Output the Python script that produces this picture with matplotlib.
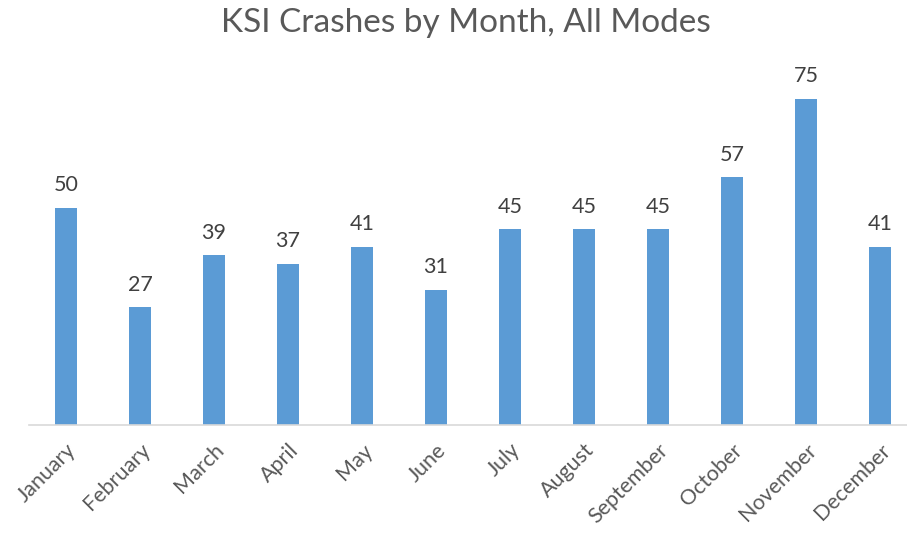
import matplotlib
matplotlib.use('Agg')
import matplotlib.pyplot as plt

months = ['January', 'February', 'March', 'April', 'May', 'June', 'July',
          'August', 'September', 'October', 'November', 'December']
crashes = [50, 27, 39, 37, 41, 31, 45, 45, 45, 57, 75, 41]

plt.rcParams['font.family'] = ['Lato', 'DejaVu Sans']
text_color = '#595959'

fig = plt.figure(figsize=(9.07, 5.33), dpi=100)
ax = fig.add_axes([29 / 907, (533 - 424.5) / 533, 888 / 907, 80 * 4.34 / 533])

x = range(len(months))
bars = ax.bar(x, crashes, width=0.31, color='#5B9BD5')
ax.bar_label(bars, labels=[str(v) for v in crashes], padding=9,
             fontsize=15.5, color='#404040')

ax.set_xlim(-0.5, len(months) - 0.5)
ax.set_ylim(0, 80)
ax.set_xticks(list(x))
ax.set_xticklabels(months, rotation=45, ha='right', rotation_mode='anchor',
                   fontsize=15.5, color=text_color)
ax.tick_params(axis='x', length=0, pad=11)
ax.set_yticks([])
for side in ['left', 'right', 'top']:
    ax.spines[side].set_visible(False)
ax.spines['bottom'].set_color('#d9d9d9')
ax.spines['bottom'].set_linewidth(1.2)

fig.text(466 / 907, 1 - 23 / 533, 'KSI Crashes by Month, All Modes',
         ha='center', va='center', fontsize=24, color=text_color)

fig.savefig('out.png', dpi=100)
